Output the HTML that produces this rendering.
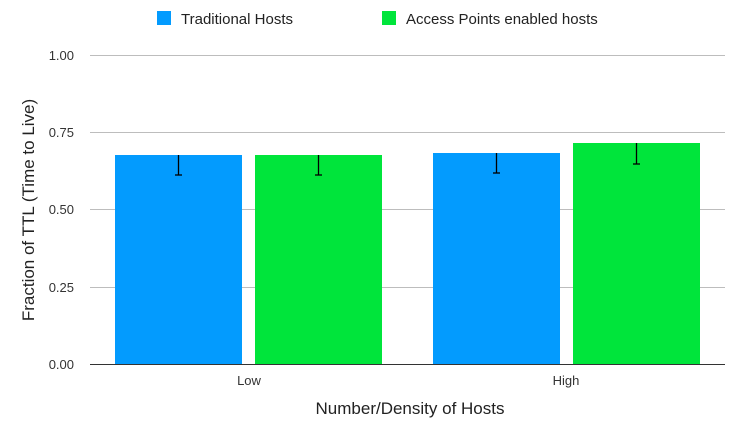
<!DOCTYPE html>
<html><head><style>body{margin:0;background:#fff}</style></head><body>
<svg width="752" height="423" xmlns="http://www.w3.org/2000/svg" font-family="Liberation Sans, sans-serif">
<rect width="752" height="423" fill="#fff"/>
<g stroke="#bdbdbd" stroke-width="1">
<line x1="90" y1="55.5" x2="725" y2="55.5"/>
<line x1="90" y1="132.5" x2="725" y2="132.5"/>
<line x1="90" y1="209.5" x2="725" y2="209.5"/>
<line x1="90" y1="287.5" x2="725" y2="287.5"/>
</g>
<rect x="115" y="155" width="127" height="209" fill="#039bfe"/>
<rect x="255" y="155" width="127" height="209" fill="#00e53b"/>
<rect x="433" y="153" width="127" height="211" fill="#039bfe"/>
<rect x="573" y="143" width="127" height="221" fill="#00e53b"/>
<line x1="90" y1="364.5" x2="725" y2="364.5" stroke="#333" stroke-width="1"/>
<g stroke="#000" stroke-width="1.3">
<line x1="178.5" y1="155" x2="178.5" y2="175"/><line x1="175" y1="175" x2="182" y2="175"/>
<line x1="318.5" y1="155" x2="318.5" y2="175"/><line x1="315" y1="175" x2="322" y2="175"/>
<line x1="496.5" y1="153" x2="496.5" y2="173"/><line x1="493" y1="173" x2="500" y2="173"/>
<line x1="636.5" y1="143" x2="636.5" y2="164"/><line x1="633" y1="164" x2="640" y2="164"/>
</g>
<g font-size="13" fill="#333" text-anchor="end">
<text x="74" y="60">1.00</text><text x="74" y="137">0.75</text><text x="74" y="214">0.50</text><text x="74" y="292">0.25</text><text x="74" y="369">0.00</text>
</g>
<g font-size="13" fill="#333" text-anchor="middle">
<text x="249" y="385">Low</text><text x="566" y="385">High</text>
</g>
<text x="410" y="414" font-size="17" fill="#222" text-anchor="middle">Number/Density of Hosts</text>
<text transform="translate(34,210) rotate(-90)" font-size="17" fill="#222" text-anchor="middle">Fraction of TTL (Time to Live)</text>
<rect x="157" y="11" width="14" height="14" fill="#039bfe"/>
<text x="181" y="24" font-size="15" fill="#222">Traditional Hosts</text>
<rect x="382" y="11" width="14" height="14" fill="#00e53b"/>
<text x="406" y="24" font-size="15" fill="#222">Access Points enabled hosts</text>
</svg>
</body></html>
